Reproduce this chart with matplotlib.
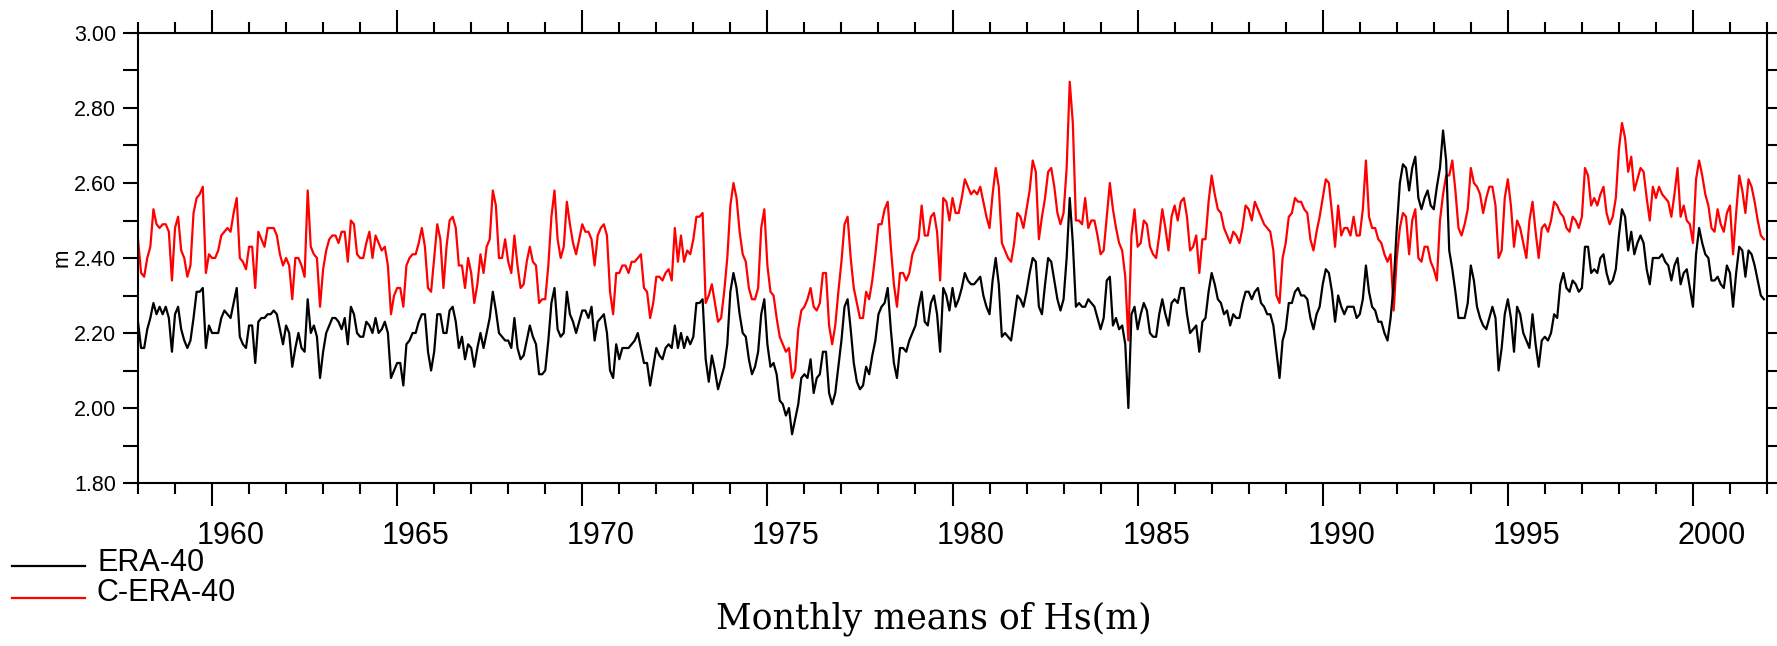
"""
Monthly means of Hs(m): ERA-40 vs C-ERA-40, 1958-2001.
"""

import numpy as np
import matplotlib.pyplot as plt
from matplotlib.lines import Line2D
from matplotlib.ticker import MultipleLocator, FormatStrFormatter
from matplotlib.transforms import blended_transform_factory

START_YEAR = 1958
END_YEAR = 2002
YEAR_LABELS = list(range(1960, 2001, 5))
SERIES_NAMES = ['ERA-40', 'C-ERA-40']

# monthly values, one row per year (Jan..Dec)
era40 = [
    2.23, 2.16, 2.16, 2.21, 2.24, 2.28, 2.25, 2.27, 2.25, 2.27, 2.24, 2.15,  # 1958
    2.25, 2.27, 2.21, 2.18, 2.16, 2.18, 2.24, 2.31, 2.31, 2.32, 2.16, 2.22,  # 1959
    2.20, 2.20, 2.20, 2.24, 2.26, 2.25, 2.24, 2.28, 2.32, 2.19, 2.17, 2.16,  # 1960
    2.22, 2.22, 2.12, 2.23, 2.24, 2.24, 2.25, 2.25, 2.26, 2.25, 2.21, 2.17,  # 1961
    2.22, 2.20, 2.11, 2.16, 2.20, 2.16, 2.15, 2.29, 2.20, 2.22, 2.19, 2.08,  # 1962
    2.15, 2.20, 2.22, 2.24, 2.24, 2.23, 2.21, 2.24, 2.17, 2.27, 2.25, 2.20,  # 1963
    2.19, 2.19, 2.23, 2.22, 2.20, 2.24, 2.20, 2.21, 2.23, 2.20, 2.08, 2.10,  # 1964
    2.12, 2.12, 2.06, 2.17, 2.18, 2.20, 2.20, 2.23, 2.25, 2.25, 2.15, 2.10,  # 1965
    2.15, 2.25, 2.25, 2.20, 2.20, 2.26, 2.27, 2.23, 2.16, 2.19, 2.13, 2.17,  # 1966
    2.16, 2.11, 2.16, 2.20, 2.16, 2.20, 2.24, 2.31, 2.26, 2.20, 2.19, 2.18,  # 1967
    2.18, 2.16, 2.24, 2.16, 2.13, 2.14, 2.18, 2.22, 2.19, 2.17, 2.09, 2.09,  # 1968
    2.10, 2.18, 2.28, 2.32, 2.21, 2.19, 2.20, 2.31, 2.25, 2.23, 2.20, 2.23,  # 1969
    2.26, 2.26, 2.24, 2.27, 2.18, 2.23, 2.24, 2.25, 2.20, 2.10, 2.08, 2.17,  # 1970
    2.13, 2.16, 2.16, 2.16, 2.17, 2.18, 2.20, 2.16, 2.12, 2.12, 2.06, 2.11,  # 1971
    2.16, 2.14, 2.13, 2.16, 2.17, 2.16, 2.22, 2.16, 2.20, 2.16, 2.19, 2.17,  # 1972
    2.19, 2.28, 2.28, 2.29, 2.13, 2.07, 2.14, 2.10, 2.05, 2.08, 2.11, 2.17,  # 1973
    2.31, 2.36, 2.32, 2.25, 2.20, 2.19, 2.13, 2.09, 2.11, 2.15, 2.25, 2.29,  # 1974
    2.17, 2.11, 2.12, 2.09, 2.02, 2.01, 1.98, 2.00, 1.93, 1.97, 2.01, 2.08,  # 1975
    2.09, 2.08, 2.13, 2.04, 2.08, 2.09, 2.15, 2.15, 2.04, 2.01, 2.04, 2.11,  # 1976
    2.18, 2.27, 2.29, 2.21, 2.12, 2.07, 2.05, 2.06, 2.11, 2.09, 2.14, 2.18,  # 1977
    2.25, 2.27, 2.28, 2.32, 2.21, 2.12, 2.08, 2.16, 2.16, 2.15, 2.18, 2.20,  # 1978
    2.22, 2.27, 2.31, 2.23, 2.22, 2.28, 2.30, 2.25, 2.15, 2.32, 2.30, 2.26,  # 1979
    2.32, 2.27, 2.29, 2.32, 2.36, 2.34, 2.33, 2.33, 2.34, 2.35, 2.30, 2.27,  # 1980
    2.25, 2.34, 2.40, 2.33, 2.19, 2.20, 2.19, 2.18, 2.24, 2.30, 2.29, 2.27,  # 1981
    2.31, 2.36, 2.40, 2.39, 2.27, 2.25, 2.33, 2.40, 2.39, 2.34, 2.29, 2.26,  # 1982
    2.29, 2.40, 2.56, 2.44, 2.27, 2.28, 2.27, 2.27, 2.29, 2.28, 2.27, 2.24,  # 1983
    2.21, 2.24, 2.34, 2.35, 2.22, 2.24, 2.21, 2.22, 2.17, 2.00, 2.25, 2.27,  # 1984
    2.21, 2.25, 2.28, 2.26, 2.20, 2.19, 2.19, 2.25, 2.29, 2.25, 2.22, 2.28,  # 1985
    2.29, 2.28, 2.32, 2.32, 2.25, 2.20, 2.21, 2.22, 2.15, 2.23, 2.24, 2.31,  # 1986
    2.36, 2.33, 2.29, 2.28, 2.25, 2.26, 2.22, 2.25, 2.24, 2.24, 2.28, 2.31,  # 1987
    2.31, 2.29, 2.31, 2.32, 2.28, 2.27, 2.25, 2.25, 2.22, 2.15, 2.08, 2.18,  # 1988
    2.21, 2.28, 2.28, 2.31, 2.32, 2.30, 2.30, 2.29, 2.24, 2.21, 2.25, 2.27,  # 1989
    2.33, 2.37, 2.36, 2.31, 2.23, 2.30, 2.27, 2.25, 2.27, 2.27, 2.27, 2.24,  # 1990
    2.25, 2.29, 2.38, 2.31, 2.27, 2.26, 2.23, 2.23, 2.20, 2.18, 2.24, 2.33,  # 1991
    2.48, 2.60, 2.65, 2.64, 2.58, 2.64, 2.67, 2.56, 2.53, 2.56, 2.58, 2.54,  # 1992
    2.53, 2.59, 2.64, 2.74, 2.66, 2.42, 2.37, 2.31, 2.24, 2.24, 2.24, 2.28,  # 1993
    2.38, 2.34, 2.27, 2.24, 2.22, 2.21, 2.24, 2.27, 2.24, 2.10, 2.16, 2.25,  # 1994
    2.29, 2.24, 2.15, 2.27, 2.25, 2.20, 2.18, 2.16, 2.25, 2.17, 2.11, 2.18,  # 1995
    2.19, 2.18, 2.20, 2.25, 2.24, 2.33, 2.36, 2.32, 2.31, 2.34, 2.33, 2.31,  # 1996
    2.32, 2.43, 2.43, 2.36, 2.37, 2.36, 2.40, 2.41, 2.36, 2.33, 2.34, 2.37,  # 1997
    2.46, 2.53, 2.51, 2.42, 2.47, 2.41, 2.44, 2.46, 2.44, 2.37, 2.33, 2.40,  # 1998
    2.40, 2.40, 2.41, 2.39, 2.38, 2.34, 2.38, 2.40, 2.33, 2.36, 2.37, 2.32,  # 1999
    2.27, 2.41, 2.48, 2.44, 2.41, 2.40, 2.34, 2.34, 2.35, 2.33, 2.32, 2.38,  # 2000
    2.36, 2.27, 2.36, 2.43, 2.42, 2.35, 2.42, 2.41, 2.38, 2.34, 2.30, 2.29,  # 2001
]

cera40 = [
    2.45, 2.36, 2.35, 2.40, 2.43, 2.53, 2.49, 2.48, 2.49, 2.49, 2.47, 2.34,  # 1958
    2.48, 2.51, 2.42, 2.40, 2.35, 2.38, 2.52, 2.56, 2.57, 2.59, 2.36, 2.41,  # 1959
    2.40, 2.40, 2.42, 2.46, 2.47, 2.48, 2.47, 2.52, 2.56, 2.40, 2.39, 2.37,  # 1960
    2.43, 2.43, 2.32, 2.47, 2.45, 2.43, 2.48, 2.48, 2.48, 2.46, 2.41, 2.38,  # 1961
    2.40, 2.38, 2.29, 2.40, 2.40, 2.38, 2.35, 2.58, 2.43, 2.41, 2.40, 2.27,  # 1962
    2.37, 2.42, 2.45, 2.46, 2.46, 2.44, 2.47, 2.47, 2.39, 2.50, 2.49, 2.41,  # 1963
    2.40, 2.40, 2.44, 2.47, 2.40, 2.46, 2.44, 2.42, 2.43, 2.38, 2.25, 2.30,  # 1964
    2.32, 2.32, 2.27, 2.38, 2.40, 2.41, 2.41, 2.44, 2.48, 2.43, 2.32, 2.31,  # 1965
    2.40, 2.49, 2.45, 2.32, 2.43, 2.50, 2.51, 2.48, 2.38, 2.38, 2.32, 2.40,  # 1966
    2.36, 2.28, 2.33, 2.41, 2.36, 2.43, 2.45, 2.58, 2.54, 2.40, 2.40, 2.45,  # 1967
    2.39, 2.36, 2.46, 2.38, 2.32, 2.33, 2.39, 2.43, 2.39, 2.38, 2.28, 2.29,  # 1968
    2.29, 2.38, 2.51, 2.58, 2.45, 2.40, 2.43, 2.55, 2.49, 2.44, 2.41, 2.45,  # 1969
    2.49, 2.47, 2.47, 2.45, 2.38, 2.46, 2.48, 2.49, 2.46, 2.31, 2.25, 2.36,  # 1970
    2.36, 2.38, 2.38, 2.36, 2.39, 2.39, 2.40, 2.41, 2.32, 2.31, 2.24, 2.28,  # 1971
    2.35, 2.35, 2.34, 2.36, 2.37, 2.34, 2.48, 2.39, 2.46, 2.39, 2.42, 2.41,  # 1972
    2.45, 2.51, 2.51, 2.52, 2.28, 2.30, 2.33, 2.28, 2.23, 2.24, 2.31, 2.40,  # 1973
    2.54, 2.60, 2.56, 2.47, 2.41, 2.39, 2.32, 2.29, 2.29, 2.32, 2.48, 2.53,  # 1974
    2.38, 2.31, 2.30, 2.24, 2.19, 2.17, 2.15, 2.16, 2.08, 2.10, 2.21, 2.26,  # 1975
    2.27, 2.29, 2.32, 2.27, 2.26, 2.28, 2.36, 2.36, 2.22, 2.17, 2.22, 2.31,  # 1976
    2.39, 2.49, 2.51, 2.40, 2.32, 2.28, 2.24, 2.24, 2.31, 2.29, 2.34, 2.41,  # 1977
    2.49, 2.49, 2.53, 2.55, 2.43, 2.33, 2.27, 2.36, 2.36, 2.34, 2.36, 2.41,  # 1978
    2.43, 2.45, 2.54, 2.46, 2.46, 2.51, 2.52, 2.47, 2.34, 2.56, 2.55, 2.50,  # 1979
    2.56, 2.52, 2.52, 2.56, 2.61, 2.59, 2.57, 2.58, 2.57, 2.59, 2.55, 2.51,  # 1980
    2.48, 2.57, 2.64, 2.59, 2.44, 2.42, 2.40, 2.39, 2.44, 2.52, 2.51, 2.48,  # 1981
    2.53, 2.58, 2.66, 2.63, 2.45, 2.51, 2.56, 2.63, 2.64, 2.59, 2.52, 2.49,  # 1982
    2.52, 2.64, 2.87, 2.76, 2.50, 2.50, 2.49, 2.56, 2.48, 2.50, 2.50, 2.46,  # 1983
    2.41, 2.42, 2.51, 2.60, 2.53, 2.48, 2.44, 2.42, 2.35, 2.18, 2.46, 2.53,  # 1984
    2.43, 2.44, 2.50, 2.49, 2.43, 2.41, 2.40, 2.46, 2.53, 2.48, 2.42, 2.51,  # 1985
    2.54, 2.50, 2.55, 2.56, 2.51, 2.42, 2.43, 2.46, 2.36, 2.45, 2.45, 2.55,  # 1986
    2.62, 2.57, 2.53, 2.52, 2.48, 2.46, 2.44, 2.47, 2.46, 2.44, 2.48, 2.54,  # 1987
    2.53, 2.50, 2.55, 2.53, 2.51, 2.49, 2.48, 2.47, 2.42, 2.30, 2.28, 2.40,  # 1988
    2.44, 2.51, 2.52, 2.56, 2.55, 2.55, 2.53, 2.52, 2.45, 2.42, 2.47, 2.51,  # 1989
    2.56, 2.61, 2.60, 2.52, 2.43, 2.54, 2.46, 2.48, 2.48, 2.46, 2.51, 2.46,  # 1990
    2.46, 2.53, 2.66, 2.51, 2.48, 2.48, 2.45, 2.44, 2.41, 2.39, 2.41, 2.26,  # 1991
    2.40, 2.48, 2.52, 2.51, 2.41, 2.50, 2.53, 2.40, 2.39, 2.43, 2.43, 2.39,  # 1992
    2.37, 2.34, 2.50, 2.57, 2.62, 2.62, 2.66, 2.58, 2.48, 2.46, 2.49, 2.53,  # 1993
    2.64, 2.60, 2.59, 2.57, 2.52, 2.56, 2.59, 2.59, 2.54, 2.40, 2.42, 2.56,  # 1994
    2.61, 2.54, 2.43, 2.50, 2.48, 2.44, 2.40, 2.50, 2.55, 2.47, 2.40, 2.48,  # 1995
    2.49, 2.47, 2.50, 2.55, 2.54, 2.52, 2.51, 2.48, 2.47, 2.51, 2.50, 2.48,  # 1996
    2.51, 2.64, 2.62, 2.54, 2.56, 2.54, 2.57, 2.59, 2.52, 2.49, 2.51, 2.56,  # 1997
    2.69, 2.76, 2.72, 2.63, 2.67, 2.58, 2.61, 2.64, 2.63, 2.56, 2.50, 2.59,  # 1998
    2.56, 2.59, 2.57, 2.56, 2.55, 2.51, 2.57, 2.64, 2.51, 2.54, 2.50, 2.49,  # 1999
    2.44, 2.61, 2.66, 2.62, 2.57, 2.54, 2.48, 2.47, 2.53, 2.49, 2.47, 2.52,  # 2000
    2.54, 2.41, 2.52, 2.62, 2.58, 2.52, 2.61, 2.59, 2.55, 2.50, 2.46, 2.45,  # 2001
]

SANS = ['Liberation Sans Narrow', 'Liberation Sans', 'DejaVu Sans']
W, H = 1777, 646


def months_axis(values):
    return START_YEAR + np.arange(len(values)) / 12.0


fig = plt.figure(figsize=(W / 100, H / 100), dpi=100)
ax = fig.add_axes([138 / W, 163 / H, 1629 / W, 450 / H])

ax.plot(months_axis(cera40), cera40, color='#ff0000', lw=1.6)
ax.plot(months_axis(era40), era40, color='black', lw=1.6)

ax.set_xlim(START_YEAR, END_YEAR)
ax.set_ylim(1.8, 3.0)

for side in ax.spines.values():
    side.set_linewidth(1.5)

ax.xaxis.set_major_locator(MultipleLocator(5))
ax.xaxis.set_minor_locator(MultipleLocator(1))
ax.yaxis.set_major_locator(MultipleLocator(0.2))
ax.yaxis.set_minor_locator(MultipleLocator(0.1))
ax.yaxis.set_major_formatter(FormatStrFormatter('%.2f'))

ax.tick_params(axis='x', which='major', direction='out', length=16.5,
               width=1.5, top=True, labelbottom=False)
ax.tick_params(axis='x', which='minor', direction='out', length=8,
               width=1.5, top=True)
ax.tick_params(axis='y', which='both', direction='out', length=10.8,
               width=1.5, right=True, labelsize=15.5, pad=5)
for lab in ax.get_yticklabels():
    lab.set_family(SANS)

# year labels sit in the middle of each labelled year
trans = blended_transform_factory(ax.transData, ax.transAxes)
for yr in YEAR_LABELS:
    ax.text(yr + 0.5, -0.118, str(yr), transform=trans, ha='center',
            va='center', fontsize=22, family=SANS)

fig.text(62 / W, 1 - 258 / H, 'm', rotation=90, ha='center', va='center',
         fontsize=16, family=SANS)

# legend in the lower left corner
for name, color, ly, ty in [(SERIES_NAMES[0], 'black', 566, 563),
                            (SERIES_NAMES[1], '#ff0000', 598, 593)]:
    fig.add_artist(Line2D([12 / W, 85 / W], [1 - ly / H, 1 - ly / H],
                          color=color, lw=1.6))
    fig.text(97 / W, 1 - ty / H, name, ha='left', va='center',
             fontsize=22, family=SANS)

fig.text(934 / W, 1 - 619 / H, 'Monthly means of Hs(m)', ha='center',
         va='center', fontsize=25, family='DejaVu Serif')

fig.savefig('out.png', dpi=100)
